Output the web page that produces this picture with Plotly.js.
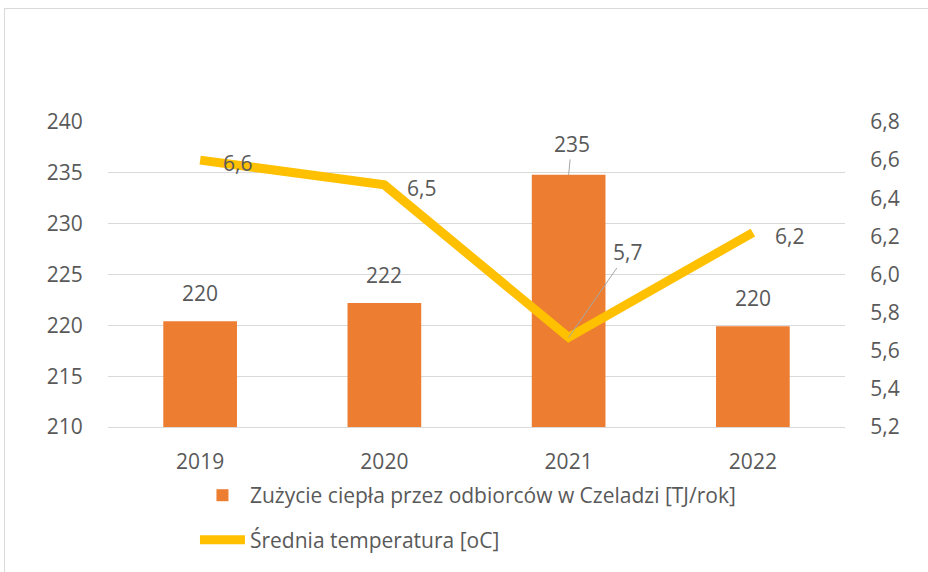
<!DOCTYPE html>
<html>
<head>
<meta charset="utf-8">
<script src="https://cdn.plot.ly/plotly-3.0.1.min.js"></script>
<style>
html,body{margin:0;padding:0;background:#fff;}
#wrap{position:relative;width:928px;height:572px;}
#chart{position:absolute;left:0;top:0;width:928px;height:572px;}
#frame{position:absolute;left:4px;top:8px;width:930px;height:570px;border-left:1px solid #d9d9d9;border-top:1px solid #d9d9d9;pointer-events:none;}
</style>
</head>
<body>
<div id="wrap"><div id="chart"></div><div id="frame"></div></div>
<script>
const years = ['2019', '2020', '2021', '2022'];
const heatUse = [220.4, 222.2, 234.8, 219.9];
const avgTemp = [6.6, 6.47, 5.67, 6.22];
const heatName = 'Zużycie ciepła przez odbiorców w Czeladzi [TJ/rok]';
const tempName = 'Średnia temperatura [oC]';

const FONT = 'Open Sans, Noto Sans, sans-serif';
const FS = 21;
const GREY = '#595959';
const fmtComma = v => v.toFixed(1).replace('.', ',');

const traces = [
  {
    type: 'bar', x: years, y: heatUse, name: heatName,
    marker: {color: '#ED7D31'}, width: 0.4, yaxis: 'y', legend: 'legend',
    hoverinfo: 'skip'
  },
  {
    type: 'scatter', mode: 'lines', x: years, y: avgTemp, name: tempName,
    line: {color: '#FFC000', width: 9}, yaxis: 'y2', legend: 'legend2',
    hoverinfo: 'skip'
  }
];

// annotations use category index on the category x axis
const annotations = [];
heatUse.forEach((v, i) => {
  const a = {x: i, y: v, xref: 'x', yref: 'y', text: String(Math.round(v)),
    font: {family: FONT, size: FS, color: GREY}};
  if (i === 2) {
    Object.assign(a, {showarrow: true, arrowhead: 0, arrowwidth: 1, arrowcolor: '#a6a6a6', ax: 3, ay: -31, standoff: 0});
  } else {
    Object.assign(a, {showarrow: false, yshift: 28});
  }
  annotations.push(a);
});
avgTemp.forEach((v, i) => {
  const a = {x: i, y: v, xref: 'x', yref: 'y2', text: fmtComma(v),
    font: {family: FONT, size: FS, color: GREY}};
  if (i === 2) {
    Object.assign(a, {showarrow: true, arrowhead: 0, arrowwidth: 1, arrowcolor: '#a6a6a6', ax: 59, ay: -85, standoff: 0});
  } else {
    Object.assign(a, {showarrow: false, xshift: 37, yshift: -3});
  }
  annotations.push(a);
});

const layout = {
  width: 928, height: 572,
  margin: {l: 108, r: 83, t: 122, b: 143},
  paper_bgcolor: 'rgba(0,0,0,0)', plot_bgcolor: '#fff',
  separators: ', ',
  font: {family: FONT, size: FS, color: GREY},
  showlegend: true,
  xaxis: {
    type: 'category', categoryorder: 'array', categoryarray: years, range: [-0.5, years.length - 0.5],
    showgrid: false, showline: true, linecolor: '#d9d9d9', linewidth: 1,
    ticks: 'outside', ticklen: 16, tickcolor: 'rgba(0,0,0,0)',
    tickfont: {family: FONT, size: FS, color: GREY}, fixedrange: true
  },
  yaxis: {
    range: [210, 240], dtick: 5, tick0: 210, showgrid: true, gridcolor: '#d9d9d9', gridwidth: 1,
    zeroline: false, showline: false,
    ticks: 'outside', ticklen: 20, tickcolor: 'rgba(0,0,0,0)',
    tickfont: {family: FONT, size: FS, color: GREY}, fixedrange: true
  },
  yaxis2: {
    overlaying: 'y', side: 'right', range: [5.2, 6.8], dtick: 0.2, tick0: 5.2, tickformat: '.1f',
    showgrid: false, zeroline: false, showline: false,
    ticks: 'outside', ticklen: 20, tickcolor: 'rgba(0,0,0,0)',
    tickfont: {family: FONT, size: FS, color: GREY}, fixedrange: true
  },
  bargap: 0.6,
  legend: {
    x: 0.118, xanchor: 'left', y: -0.2248, yanchor: 'middle', orientation: 'v',
    itemwidth: 45, font: {family: FONT, size: FS, color: GREY}, bgcolor: 'rgba(0,0,0,0)'
  },
  legend2: {
    x: 0.118, xanchor: 'left', y: -0.371, yanchor: 'middle', orientation: 'v',
    itemwidth: 45, font: {family: FONT, size: FS, color: GREY}, bgcolor: 'rgba(0,0,0,0)'
  },
  annotations: annotations
};

Plotly.newPlot('chart', traces, layout, {displayModeBar: false, staticPlot: true});
</script>
</body>
</html>
